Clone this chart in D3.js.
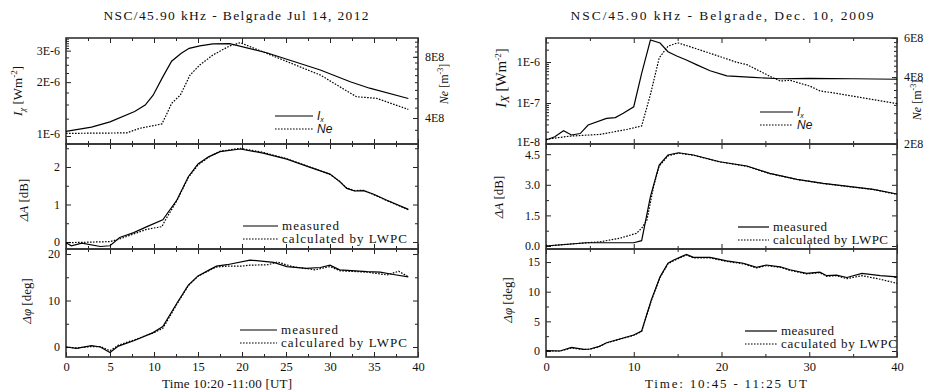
<!DOCTYPE html>
<html>
<head>
<meta charset="utf-8">
<script src="https://cdn.jsdelivr.net/npm/d3@7"></script>
<style>
  body { margin: 0; background: #fff; }
  svg text { font-family: "Liberation Serif", "Times New Roman", serif; fill: #111; }
</style>
</head>
<body>
<svg id="chart" width="927" height="390" font-family="Liberation Serif"></svg>
<script>
// ---- Jul 14, 2012 (left figure) ----
var julIxT = [0, 2.9, 5, 7.8, 9, 9.9, 11, 12, 13.1, 14, 15.2, 16.7, 18.6, 22.8, 28.9, 32.3, 34.5, 38.9];
var julIx  = [1.06e-6, 1.12e-6, 1.20e-6, 1.37e-6, 1.49e-6, 1.69e-6, 2.14e-6, 2.62e-6, 2.90e-6, 3.09e-6, 3.19e-6, 3.27e-6, 3.28e-6, 2.92e-6, 2.34e-6, 2.01e-6, 1.85e-6, 1.62e-6];
var julNeT = [0, 6.9, 8.4, 10.9, 11.3, 12, 13, 14.1, 15.2, 16.7, 18.6, 19.8, 23, 28.9, 33, 35.3, 38.9];
var julNe  = [3.36e8, 3.38e8, 3.56e8, 3.74e8, 4.06e8, 4.72e8, 5.19e8, 6.51e8, 7.29e8, 8.17e8, 9.05e8, 9.39e8, 8.25e8, 6.51e8, 5.09e8, 5.0e8, 4.41e8];

var julAmpMeasT = [0, 0.6, 1.8, 3.9, 5, 6.1, 7.7, 9.2, 11, 12.6, 13.9, 15, 16.2, 17.5, 19.8, 22.4, 25.1, 27.5, 30, 31.1, 31.9, 32.8, 33.8, 34.9, 36.4, 38.9];
var julAmpMeas  = [-0.02, -0.1, -0.03, -0.12, -0.1, 0.12, 0.25, 0.41, 0.59, 1.12, 1.74, 2.08, 2.27, 2.41, 2.48, 2.37, 2.21, 2.01, 1.81, 1.61, 1.43, 1.36, 1.37, 1.28, 1.12, 0.87];
var julAmpCalcT = [0, 5, 6.1, 9.2, 10.9, 11.3, 12.6, 13.9, 15, 16.2, 17.5, 19.8, 22.4, 25.1, 27.5, 30, 31.1, 31.9, 32.8, 33.8, 34.9, 36.4, 38.9];
var julAmpCalc  = [-0.02, 0.01, 0.08, 0.34, 0.41, 0.59, 1.10, 1.72, 2.05, 2.26, 2.42, 2.50, 2.39, 2.22, 2.02, 1.80, 1.62, 1.44, 1.37, 1.38, 1.27, 1.11, 0.86];

var julPhMeasT = [0, 1.2, 2.9, 3.9, 5, 5.95, 7.7, 9.9, 11, 12.6, 13.9, 15, 16.4, 17.1, 18.3, 20.9, 23.6, 25.1, 27.3, 28.9, 30, 31.1, 34.2, 35.7, 37.2, 38.9];
var julPhMeas  = [0, -0.3, 0.3, 0, -1.2, 0.2, 1.35, 3.1, 4.4, 9.4, 13.3, 15.3, 16.7, 17.4, 17.7, 18.7, 18.2, 17.3, 16.9, 17.1, 17.6, 16.6, 16.2, 16.1, 15.6, 15.1];
var julPhCalcT = [0, 1.2, 2.9, 3.9, 5, 5.95, 7.7, 9.9, 11, 12.6, 13.9, 15, 16.4, 17.1, 18.3, 20, 20.9, 23, 24, 25.7, 28.3, 30, 31.1, 34.2, 36.5, 37.8, 38.9];
var julPhCalc  = [0, -0.2, 0.1, 0.1, -0.8, 0.4, 1.5, 3.0, 4.0, 9.2, 13.2, 15.2, 16.6, 17.2, 17.4, 17.4, 17.6, 17.7, 18.3, 17.3, 16.6, 17.3, 16.4, 16.1, 15.5, 16.3, 15.1];

// ---- Dec 10, 2009 (right figure) ----
var decIxT = [0, 1, 2, 2.9, 3.9, 4.8, 6.9, 7.9, 8.8, 10, 10.9, 11.9, 13, 13.9, 14.9, 16, 17.2, 18.7, 20.6, 23.6, 26.7, 30, 35, 40];
var decIx  = [1.25e-8, 1.5e-8, 2.1e-8, 1.66e-8, 1.8e-8, 2.9e-8, 4.2e-8, 4.4e-8, 5.6e-8, 8.1e-8, 5.3e-7, 3.44e-6, 2.9e-6, 1.78e-6, 1.4e-6, 1.12e-6, 8.5e-7, 6.1e-7, 4.6e-7, 4.2e-7, 3.9e-7, 4.0e-7, 3.9e-7, 3.8e-7];
var decNeT = [0, 2.7, 6.2, 9.3, 10.9, 11.9, 12.9, 13.9, 15, 16.8, 19.1, 21.7, 22.9, 24.4, 25.7, 26.7, 27.8, 30.1, 31.2, 33.1, 35.8, 40];
var decNe  = [2.1e8, 2.17e8, 2.21e8, 2.33e8, 2.41e8, 3.34e8, 4.88e8, 5.51e8, 5.71e8, 5.42e8, 5.06e8, 4.67e8, 4.55e8, 4.25e8, 4.0e8, 3.84e8, 3.87e8, 3.64e8, 3.47e8, 3.38e8, 3.24e8, 3.04e8];

var decAmpMeasT = [0, 4.6, 10, 10.9, 11.9, 12.9, 13.9, 15.1, 16.8, 19.8, 22.9, 25.5, 28.6, 31.6, 34.7, 37.3, 40];
var decAmpMeas  = [0, 0.16, 0.16, 0.26, 2.42, 3.97, 4.46, 4.57, 4.46, 4.13, 3.92, 3.56, 3.27, 3.07, 2.91, 2.78, 2.55];
var decAmpCalcT = [0, 6.2, 8.4, 10.3, 10.9, 11.5, 12.3, 12.9, 13.9, 15.1, 16.8, 19.8, 22.9, 25.5, 28.6, 31.6, 34.7, 37.3, 40];
var decAmpCalc  = [0, 0.21, 0.38, 0.62, 0.87, 1.27, 3.0, 3.92, 4.42, 4.55, 4.45, 4.12, 3.90, 3.55, 3.26, 3.06, 2.90, 2.77, 2.53];

var decPhMeasT = [0, 1.6, 2.9, 4.3, 5, 6, 6.9, 10, 10.9, 12, 13, 13.9, 14.5, 16, 16.8, 18.7, 20.6, 22.5, 24, 25.1, 26.7, 27.8, 29.7, 31.2, 32, 33.1, 34.3, 36, 38.1, 40];
var decPhMeas  = [0.05, 0, 0.62, 0.28, 0.34, 0.73, 1.4, 2.7, 3.37, 8.6, 12.5, 14.8, 15.3, 16.3, 15.8, 15.8, 15.2, 14.8, 14.1, 14.5, 14.2, 13.7, 13.1, 13.3, 12.7, 12.8, 12.4, 13.1, 12.7, 12.5];
var decPhCalcT = [0, 1.6, 2.9, 4.3, 5, 6, 6.9, 10, 10.9, 12, 13, 13.9, 14.5, 16, 16.8, 18.7, 20.6, 22.5, 24, 25.1, 26.7, 27.8, 29.7, 31.2, 32, 33.1, 34.3, 36, 38.1, 40];
var decPhCalc  = [0.0, 0, 0.5, 0.25, 0.3, 0.7, 1.35, 2.65, 3.3, 8.5, 12.4, 14.7, 15.2, 16.2, 15.7, 15.7, 15.1, 14.7, 14.0, 14.4, 14.1, 13.6, 13.0, 13.2, 12.6, 12.7, 12.2, 12.7, 12.1, 11.4];

var edges = [38, 144, 249, 357];
var svg = d3.select("#chart");

function sci(d) {
  var e = Math.floor(Math.log10(d) + 1e-9);
  var m = Math.round(d / Math.pow(10, e));
  return m + "E" + e;
}

function zip(t, v) { return t.map(function(d, i) { return [d, v[i]]; }); }

function range(a, b, s) { var r = []; for (var v = a; v <= b + 1e-9; v += s) r.push(+v.toFixed(6)); return r; }

function styleAxis(sel) {
  sel.attr("font-family", "Liberation Serif");
  sel.select(".domain").remove();
  sel.selectAll(".tick line").attr("stroke", "#222").attr("stroke-width", 1);
  sel.selectAll(".tick text").attr("font-size", 12).attr("fill", "#111");
}

function drawFigure(f) {
  var x = d3.scaleLinear().domain([0, 40]).range([f.x0, f.x1]);

  f.panels.forEach(function(p, i) {
    var top = edges[i], bot = edges[i + 1];
    var y = (p.log ? d3.scaleLog() : d3.scaleLinear()).domain(p.domain).range([bot, top]);
    var g = svg.append("g");

    // x ticks, inward on top and bottom
    [[top, d3.axisBottom], [bot, d3.axisTop]].forEach(function(a) {
      g.append("g").attr("transform", "translate(0," + a[0] + ")")
        .call(a[1](x).tickValues(f.xMajor).tickSize(5).tickFormat("")).call(styleAxis);
      g.append("g").attr("transform", "translate(0," + a[0] + ")")
        .call(a[1](x).tickValues(f.xMinor).tickSize(3).tickFormat("")).call(styleAxis);
    });

    // y ticks on the left, inward
    g.append("g").attr("transform", "translate(" + f.x0 + ",0)")
      .call(d3.axisRight(y).tickValues(p.major).tickSize(5).tickFormat("")).call(styleAxis);
    g.append("g").attr("transform", "translate(" + f.x0 + ",0)")
      .call(d3.axisRight(y).tickValues(p.minor).tickSize(3).tickFormat("")).call(styleAxis);
    var lab = g.append("g").attr("transform", "translate(" + f.x0 + ",0)")
      .call(d3.axisLeft(y).tickValues(p.major).tickSize(0).tickPadding(6).tickFormat(p.fmt)).call(styleAxis);
    // lift the lowest label of the top panels a little, as in the source figure
    if (p.right) lab.selectAll(".tick text").filter(function(d) { return d === p.major[0]; }).attr("dy", "0.1em");

    // right side: second axis (Ne) or mirrored ticks
    var y2 = y, maj2 = p.major, min2 = p.minor;
    if (p.right) {
      y2 = d3.scaleLog().domain(p.right.domain).range([bot, top]);
      maj2 = p.right.major; min2 = p.right.minor;
      g.append("g").attr("transform", "translate(" + f.x1 + ",0)")
        .call(d3.axisRight(y2).tickValues(maj2).tickSize(0).tickPadding(7).tickFormat(sci)).call(styleAxis);
    }
    g.append("g").attr("transform", "translate(" + f.x1 + ",0)")
      .call(d3.axisLeft(y2).tickValues(maj2).tickSize(5).tickFormat("")).call(styleAxis);
    g.append("g").attr("transform", "translate(" + f.x1 + ",0)")
      .call(d3.axisLeft(y2).tickValues(min2).tickSize(3).tickFormat("")).call(styleAxis);

    // frame
    g.append("rect").attr("x", f.x0).attr("y", top).attr("width", f.x1 - f.x0).attr("height", bot - top)
      .attr("fill", "none").attr("stroke", "#333").attr("stroke-width", 1.6);

    // series
    p.series.forEach(function(s) {
      var ys = s.right ? y2 : y;
      var line = d3.line().x(function(d) { return x(d[0]); }).y(function(d) { return ys(d[1]); });
      g.append("path").datum(s.data).attr("d", line)
        .attr("fill", "none").attr("stroke", "#000").attr("stroke-width", 1.2)
        .attr("stroke-dasharray", s.dash ? "1.6,1.4" : null);
    });

    // legend
    p.legend.items.forEach(function(it, k) {
      var ly = p.legend.y + k * 13;
      g.append("line").attr("x1", p.legend.x).attr("x2", p.legend.x + p.legend.len)
        .attr("y1", ly).attr("y2", ly).attr("stroke", "#000").attr("stroke-width", 1.2)
        .attr("stroke-dasharray", it.dash ? "1.6,1.4" : null);
      var t = g.append("text").attr("x", p.legend.x + p.legend.len + 4).attr("y", ly + 4);
      if (it.sans) {
        t.style("font-family", "'Liberation Sans', Arial, sans-serif").attr("font-style", "italic").attr("font-size", 12);
      } else {
        t.attr("font-size", 13).attr("textLength", it.w).attr("lengthAdjust", "spacing");
      }
      if (it.sub) {
        t.append("tspan").text(it.label);
        t.append("tspan").attr("dy", 2).attr("font-size", 7).text(it.sub);
      } else {
        t.text(it.label);
      }
    });

    // y axis title
    var yl = svg.append("text").attr("transform", "translate(" + p.title.x + "," + p.title.y + ") rotate(-90)")
      .attr("text-anchor", "middle").attr("font-size", p.title.size || 13);
    p.title.parts.forEach(function(pt) {
      var ts = yl.append("tspan").text(pt.t);
      if (pt.i) ts.attr("font-style", "italic");
      if (pt.dy) ts.attr("dy", pt.dy);
      if (pt.fs) ts.attr("font-size", pt.fs);
    });
    if (p.right) {
      var rl = svg.append("text").attr("transform", "translate(" + p.right.title.x + "," + p.right.title.y + ") rotate(-90)")
        .attr("text-anchor", "middle").attr("font-size", 12);
      rl.append("tspan").attr("font-style", "italic").text("Ne");
      rl.append("tspan").text(" [m");
      rl.append("tspan").attr("dy", -5).attr("font-size", 8).text("-3");
      rl.append("tspan").attr("dy", 5).text("]");
    }
  });

  // x tick labels under the bottom panel
  svg.append("g").attr("transform", "translate(0," + edges[3] + ")")
    .call(d3.axisBottom(x).tickValues(f.xMajor).tickSize(0).tickPadding(5).tickFormat(d3.format("d")))
    .call(styleAxis)
    .selectAll("text").attr("font-size", 12.5);

  svg.append("text").attr("x", f.xTitleX).attr("y", 388).attr("text-anchor", "middle")
    .attr("font-size", 13).attr("textLength", f.xTitleW).attr("lengthAdjust", "spacing").text(f.xTitle);
  svg.append("text").attr("x", f.titleX).attr("y", 20).attr("text-anchor", "middle")
    .attr("font-size", 13.5).attr("textLength", f.titleW).attr("lengthAdjust", "spacing").text(f.title);
}

function ixTitle(sub, size, subSize, x, y) {
  return { parts: [{ t: "I", i: true }, { t: sub, i: true, dy: 3, fs: subSize }, { t: " [Wm", dy: -3 },
    { t: "-2", dy: -5, fs: 9 }, { t: "]", dy: 5 }], size: size, x: x, y: y };
}
var ampTitle = [{ t: "ΔA", i: true }, { t: " [dB]" }];
var phTitle = [{ t: "Δφ", i: true }, { t: " [deg]" }];

drawFigure({
  x0: 66, x1: 418,
  xMajor: range(0, 40, 5), xMinor: range(2.5, 37.5, 5),
  xTitle: "Time 10:20 -11:00 [UT]", xTitleX: 227, xTitleW: 130,
  title: "NSC/45.90 kHz - Belgrade  Jul 14, 2012", titleX: 236, titleW: 265,
  panels: [
    {
      log: true, domain: [0.902e-6, 3.53e-6], major: [1e-6, 2e-6, 3e-6],
      minor: [1.25e-6, 1.5e-6, 1.75e-6, 2.25e-6, 2.5e-6, 2.75e-6, 3.1e-6, 3.2e-6, 3.3e-6, 3.4e-6, 3.5e-6],
      fmt: sci,
      right: { domain: [2.98e8, 9.9e8], major: [4e8, 8e8], minor: range(3.5e8, 9.5e8, 0.5e8),
               title: { x: 448, y: 84 } },
      series: [{ data: zip(julIxT, julIx) }, { data: zip(julNeT, julNe), dash: true, right: true }],
      legend: { x: 275, y: 116, len: 38, items: [{ label: "I", sub: "x", sans: true }, { label: "Ne", sans: true, dash: true }] },
      title: ixTitle("χ", 13, 9, 22, 91)
    },
    {
      domain: [-0.187, 2.613], major: [0, 1, 2], minor: [0.5, 1.5, 2.5], fmt: d3.format("d"),
      series: [{ data: zip(julAmpMeasT, julAmpMeas) }, { data: zip(julAmpCalcT, julAmpCalc), dash: true }],
      legend: { x: 243, y: 226, len: 35, items: [{ label: "measured", w: 57 }, { label: "calculated by LWPC", dash: true, w: 125 }] },
      title: { parts: ampTitle, x: 28, y: 200 }
    },
    {
      domain: [-2.15, 21.08], major: [0, 10, 20], minor: [5, 15], fmt: d3.format("d"),
      series: [{ data: zip(julPhMeasT, julPhMeas) }, { data: zip(julPhCalcT, julPhCalc), dash: true }],
      legend: { x: 240, y: 330, len: 37, items: [{ label: "measured", w: 57 }, { label: "calculared by LWPC", dash: true, w: 126 }] },
      title: { parts: phTitle, x: 31, y: 301 }
    }
  ]
});

drawFigure({
  x0: 546, x1: 897,
  xMajor: range(0, 40, 10), xMinor: range(5, 35, 10),
  xTitle: "Time: 10:45 - 11:25 UT", xTitleX: 726, xTitleW: 162,
  title: "NSC/45.90 kHz - Belgrade, Dec. 10, 2009", titleX: 722, titleW: 303,
  panels: [
    {
      log: true, domain: [1e-8, 3.85e-6], major: [1e-8, 1e-7, 1e-6],
      minor: [2e-8, 3e-8, 4e-8, 5e-8, 6e-8, 7e-8, 8e-8, 9e-8, 2e-7, 3e-7, 4e-7, 5e-7, 6e-7, 7e-7, 8e-7, 9e-7, 2e-6, 3e-6],
      fmt: sci,
      right: { domain: [2e8, 6e8], major: [2e8, 4e8, 6e8], minor: range(2.25e8, 5.75e8, 0.25e8),
               title: { x: 921, y: 100 } },
      series: [{ data: zip(decIxT, decIx) }, { data: zip(decNeT, decNe), dash: true, right: true }],
      legend: { x: 760, y: 112, len: 33, items: [{ label: "I", sub: "x", sans: true }, { label: "Ne", sans: true, dash: true }] },
      title: ixTitle("X", 15, 12, 506, 78)
    },
    {
      domain: [-0.147, 5.0], major: [0, 1.5, 3, 4.5], minor: [0.75, 2.25, 3.75], fmt: d3.format(".1f"),
      series: [{ data: zip(decAmpMeasT, decAmpMeas) }, { data: zip(decAmpCalcT, decAmpCalc), dash: true }],
      legend: { x: 738, y: 227, len: 31, items: [{ label: "measured", w: 54 }, { label: "calculated by LWPC", dash: true, w: 115 }] },
      title: { parts: ampTitle, x: 503, y: 197 }
    },
    {
      domain: [-1.01, 17.2], major: [0, 5, 10, 15], minor: [2.5, 7.5, 12.5], fmt: d3.format("d"),
      series: [{ data: zip(decPhMeasT, decPhMeas) }, { data: zip(decPhCalcT, decPhCalc), dash: true }],
      legend: { x: 745, y: 331, len: 32, items: [{ label: "measured", w: 53 }, { label: "caculated by LWPC", dash: true, w: 116 }] },
      title: { parts: phTitle, x: 512, y: 300 }
    }
  ]
});
</script>
</body>
</html>
